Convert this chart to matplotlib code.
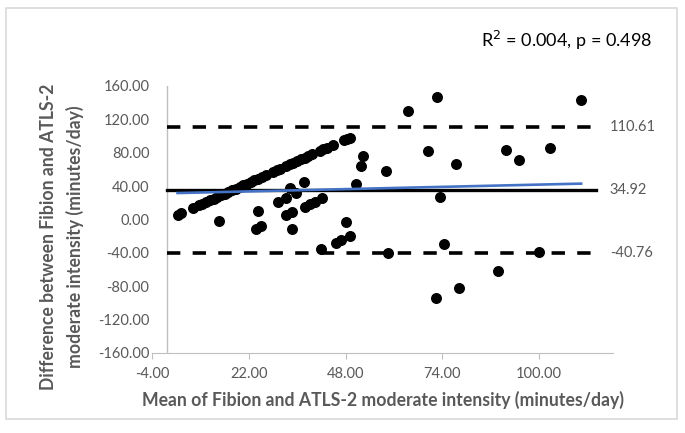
#!/usr/bin/env python3
"""Bland-Altman plot: Fibion vs ATLS-2 moderate intensity."""
import numpy as np
import matplotlib
matplotlib.use('Agg')
import matplotlib.pyplot as plt
from matplotlib.patches import Rectangle

# mean of the two devices (x) and their difference (y)
mean_min = [2.8, 3.6, 7.0, 8.5, 9.5, 10.5, 11.5, 12.5, 13.5, 14.5,
            15.5, 16.5, 17.5, 18.5, 19.5, 20.5, 21.5, 22.5, 23.5, 24.5,
            25.5, 26.5, 28.5, 29.5, 30.5, 32.0, 33.0, 34.0, 35.0, 36.0,
            37.0, 38.0, 39.0, 41.0, 42.0, 43.0, 44.5, 47.5, 48.3, 49.1,
            13.9, 24.5, 23.9, 25.2, 29.9, 32.1, 33.0, 34.8, 36.8, 32.1,
            33.7, 33.5, 37.0, 38.4, 39.9, 41.8, 41.5, 45.4, 46.9, 49.3,
            48.0, 52.7, 52.1, 50.9, 58.8, 64.8, 72.7, 70.3, 77.6, 73.3,
            74.4, 59.4, 72.4, 78.5, 89.0, 91.3, 94.8, 111.4, 102.9, 100.2]
diff_min = [5.6, 7.2, 14.0, 17.0, 19.0, 21.0, 23.0, 25.0, 27.0, 29.0,
            31.0, 33.0, 35.0, 37.0, 39.0, 41.0, 43.0, 45.0, 47.0, 49.0,
            51.0, 53.0, 57.0, 59.0, 61.0, 64.0, 66.0, 68.0, 70.0, 72.0,
            74.0, 76.0, 78.0, 82.0, 84.0, 86.0, 89.0, 95.0, 96.6, 98.2,
            -1.5, 10.1, -11.8, -7.9, 20.5, 25.3, 37.3, 31.3, 44.5, 5.3,
            8.9, -11.8, 15.3, 18.6, 21.3, 25.3, -35.8, -27.9, -24.2, -19.9,
            -3.6, 76.4, 64.4, 42.5, 58.4, 130.4, 146.4, 81.7, 66.5, 27.3,
            -29.8, -39.9, -93.8, -82.2, -61.5, 83.6, 71.3, 143.2, 86.1, -38.7]

bias = 34.92
upper_loa = 110.61
lower_loa = -40.76
line_end = 115.3
# Excel linear trendline as drawn on the chart
trend_slope = 0.104
trend_icept = 31.4
stats_text = 'R$^2$ = 0.004, p = 0.498'

xticks = [-4, 22, 48, 74, 100]
yticks = [-160, -120, -80, -40, 0, 40, 80, 120, 160]

plt.rcParams['font.family'] = ['Lato', 'DejaVu Sans']
grey_text = '#595959'
grey_line = '#bfbfbf'

fig = plt.figure(figsize=(6.85, 4.33), dpi=100)
ax = fig.add_axes([0.2223, 0.1848, 0.895 - 0.2223, 0.8014 - 0.1848])

# figure frame like the Excel chart area
fig.patches.append(Rectangle((6 / 685, 1 - 419 / 433), 671 / 685, 411 / 433,
                             transform=fig.transFigure, fill=False,
                             edgecolor='#d9d9d9', linewidth=1.2))

ax.plot(mean_min, diff_min, linestyle='None', marker='o', markersize=6.9,
        color='black', zorder=4)

# limits of agreement and bias
dash = (0, (3.7, 3.4))
ax.plot([0, line_end], [upper_loa, upper_loa], color='black', lw=2.6,
        linestyle=dash, zorder=3)
ax.plot([0, line_end], [lower_loa, lower_loa], color='black', lw=2.6,
        linestyle=dash, zorder=3)
ax.plot([0, line_end], [bias, bias], color='black', lw=2.4, zorder=3)

# linear trend line over the range of the data
xs = np.array([min(mean_min), max(mean_min)])
ax.plot(xs, trend_icept + trend_slope * xs, color='#4472c4', lw=1.9, zorder=5)

for val in (upper_loa, bias, lower_loa):
    ax.text(line_end + 3.8, val, f'{val:.2f}', va='center', ha='left',
            fontsize=10.5, color=grey_text)

ax.axvline(0, color=grey_line, lw=1.0, zorder=1)

ax.set_xlim(-4, 120)
ax.set_ylim(-160, 160)
ax.set_xticks(xticks)
ax.set_xticklabels([f'{v:.2f}' for v in xticks])
ax.set_yticks(yticks)
ax.set_yticklabels([f'{v:.2f}' for v in yticks])
for s in ('top', 'right', 'left'):
    ax.spines[s].set_visible(False)
ax.spines['bottom'].set_color(grey_line)
ax.tick_params(axis='x', length=4, color=grey_line, labelcolor=grey_text,
               labelsize=10.5, pad=6)
ax.tick_params(axis='y', length=0, labelcolor=grey_text, labelsize=10.5, pad=2)

ax.set_xlabel('Mean of Fibion and ATLS-2 moderate intensity (minutes/day)',
              fontsize=12.7, fontweight='bold', color=grey_text, labelpad=7)
fig.text(62 / 685, 1 - 237 / 433,
         'Difference between Fibion and ATLS-2\nmoderate intensity (minutes/day)',
         rotation=90, ha='center', va='center', fontsize=12.7,
         fontweight='bold', color=grey_text, linespacing=1.6)

fig.text(567 / 685, 1 - 40 / 433, stats_text, ha='center', va='center',
         fontsize=13, color='black')

plt.savefig('out.png', dpi=100)
